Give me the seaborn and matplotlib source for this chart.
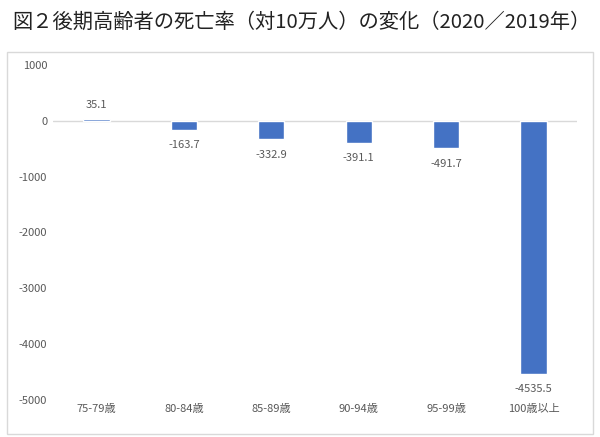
import matplotlib
matplotlib.use("Agg")
import matplotlib.pyplot as plt
import seaborn as sns
import pandas as pd
from matplotlib.patches import Rectangle

# data
age_groups = ["75-79歳", "80-84歳", "85-89歳", "90-94歳", "95-99歳", "100歳以上"]
change = [35.1, -163.7, -332.9, -391.1, -491.7, -4535.5]
y_ticks = [1000, 0, -1000, -2000, -3000, -4000, -5000]

sns.set_theme(style="white")
plt.rcParams['font.family'] = ['Noto Sans CJK JP', 'DejaVu Sans']

df = pd.DataFrame({"age": age_groups, "change": change})

fig = plt.figure(figsize=(6.0, 4.37), dpi=100)
ax = fig.add_axes([0.088, 0.085, 0.874, 0.766])

sns.barplot(data=df, x="age", y="change", color="#4472C4", width=0.3,
            saturation=1, ax=ax)

ax.set_ylim(-5000, 1000)
ax.set_yticks(y_ticks)
ax.set_yticklabels([str(t) for t in y_ticks])
ax.set_xlabel(None)
ax.set_ylabel(None)
ax.tick_params(axis="both", labelsize=8, colors="#595959", length=0)
ax.tick_params(axis="y", pad=4)
ax.tick_params(axis="x", pad=3)
for s in ax.spines.values():
    s.set_visible(False)
ax.axhline(0, color="#D9D9D9", lw=1, zorder=0)

# data labels
for i, v in enumerate(change):
    off = 10 if v > 0 else -11
    ax.annotate(f"{v}", (i, v), xytext=(0, off), textcoords="offset points",
                ha="center", va="center", fontsize=8, color="#595959")

# chart frame
fig.patches.append(Rectangle((7/600, 1 - 434/437), 586/600, 382/437,
                             transform=fig.transFigure, fill=False,
                             edgecolor="#D9D9D9", lw=1))

fig.text(12/600, 1 - 22/437, "図２後期高齢者の死亡率（対10万人）の変化（2020／2019年）",
         fontsize=14.6, va="center", ha="left", color="#222222")

fig.savefig("out.png", dpi=100)
